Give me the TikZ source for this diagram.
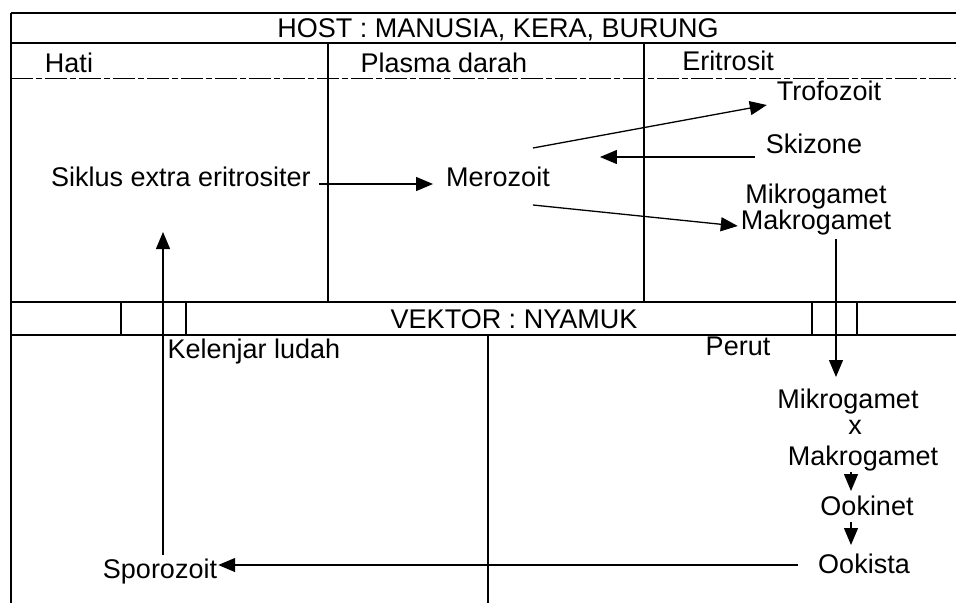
\documentclass[tikz,border=0pt]{standalone}
\usepackage{fontspec}
\setmainfont{Liberation Sans}
\usetikzlibrary{arrows.meta,calc}
\begin{document}
\begin{tikzpicture}[x=1pt,y=-1pt,
  txt/.style={font=\fontsize{27}{32}\selectfont, inner sep=0pt, anchor=base},
  rule/.style={line width=1.2pt, black},
  dashrule/.style={line width=0.9pt, black, dash pattern=on 22pt off 3pt on 6pt off 3pt},
  arr/.style={line width=1.3pt, -{Triangle[length=17pt,width=14pt]}}]
\useasboundingbox (0,0) rectangle (956,603);
\fill[white] (0,0) rectangle (956,603);
% table rules
\draw[rule] (11,13) -- (956,13);
\draw[rule] (11,13) -- (11,603);
\draw[rule] (11,43) -- (956,43);
\draw[dashrule] (11,78) -- (956,78);
\draw[rule] (328,43) -- (328,302);
\draw[rule] (644,43) -- (644,302);
\draw[rule] (11,302) -- (956,302);
\draw[rule] (11,335) -- (956,335);
\foreach \xx in {121,186,812,857} \draw[rule] (\xx,302) -- (\xx,335);
\draw[rule] (488,335) -- (488,603);
% headings
\node[txt] (host) at (498,37) {HOST : MANUSIA, KERA, BURUNG};
\node[txt] (hati) at (69,72) {Hati};
\node[txt] (plasma) at (444,72) {Plasma darah};
\node[txt] (eritrosit) at (728,70) {Eritrosit};
\node[txt] (vektor) at (514,328) {VEKTOR : NYAMUK};
\node[txt] (kelenjar) at (254,358) {Kelenjar ludah};
\node[txt] (perut) at (738,355) {Perut};
% stages
\node[txt] (siklus) at (181,186) {Siklus extra eritrositer};
\node[txt] (mero) at (498,186) {Merozoit};
\node[txt] (trof) at (829,100) {Trofozoit};
\node[txt] (skiz) at (814,153) {Skizone};
\node[txt] (mikroA) at (816,203) {Mikrogamet};
\node[txt] (makroA) at (816,229) {Makrogamet};
\node[txt] (mikroB) at (848,408) {Mikrogamet};
\node[txt] (xcross) at (855,434) {x};
\node[txt] (makroB) at (863,465) {Makrogamet};
\node[txt] (ookinet) at (867,515) {Ookinet};
\node[txt] (ookista) at (864,573) {Ookista};
\node[txt] (spor) at (160,578) {Sporozoit};
% connectors
\draw[arr] ($(siklus.base east)+(8,-2)$) -- ($(mero.base west)+(-13,-2)$);
\draw[arr] ($(mero.base east)+(-17,-38)$) -- ($(trof.base west)+(-10,5)$);
\draw[arr] ($(skiz.base west)+(-11,4)$) -- ($(mero.base east)+(50,-29)$);
\draw[arr] ($(mero.base east)+(-17,19)$) -- ($(makroA.base west)+(-3,-3)$);
\draw[arr] ($(makroA.base)+(20,10)$) -- ($(mikroB.base)+(-12,-31)$);
\draw[arr] ($(makroB.base)+(-12,7)$) -- ($(ookinet.base)+(-16,-24)$);
\draw[arr] ($(ookinet.base)+(-16,7)$) -- ($(ookista.base)+(-13,-28)$);
\draw[arr] ($(ookista.base west)+(-20,-8)$) -- ($(spor.base east)+(1,-13)$);
\draw[arr] ($(spor.base)+(3,-23)$) -- ($(siklus.base)+(-18,46)$);
\end{tikzpicture}
\end{document}
